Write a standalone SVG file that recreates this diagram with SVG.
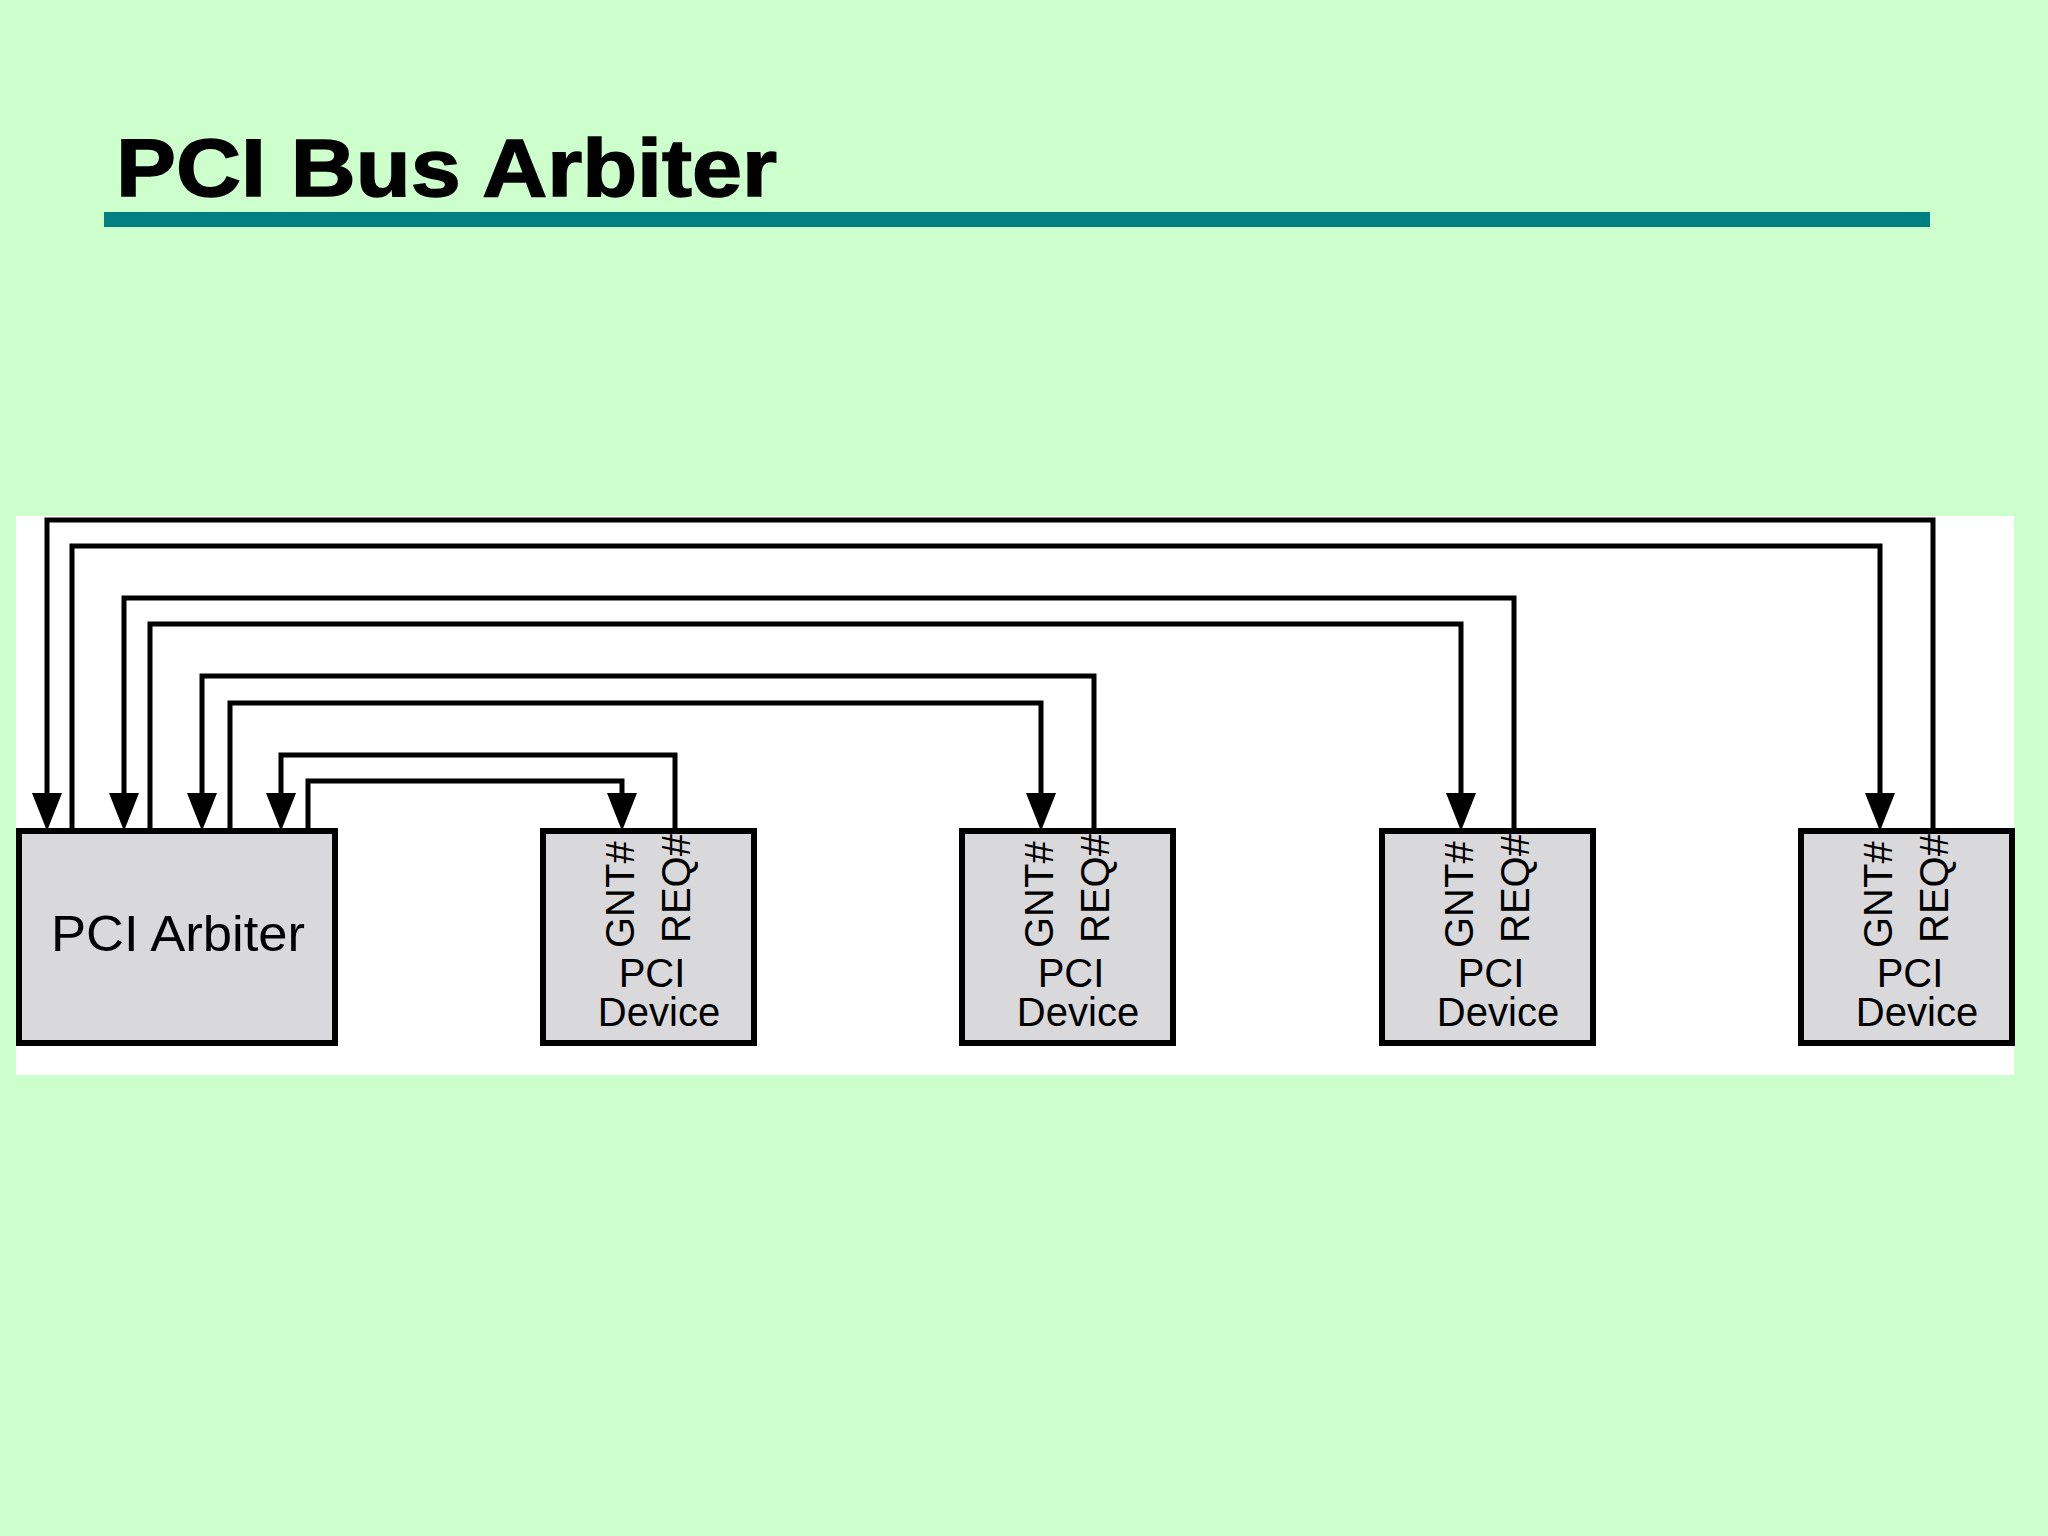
<svg xmlns="http://www.w3.org/2000/svg" width="2048" height="1536" viewBox="0 0 2048 1536">
<style>
.box{fill:#D9D9DB;stroke:#000;stroke-width:6}
.wire{fill:none;stroke:#000;stroke-width:5;stroke-linejoin:miter}
.lbl{font-family:"Liberation Sans",Arial,sans-serif;font-size:40px;fill:#000}
.title{font-family:"Liberation Sans",Arial,sans-serif;font-weight:bold;font-size:82px;fill:#000;stroke:#000;stroke-width:1.5}
</style>
<defs>
<marker id="arr" viewBox="0 0 38 30" markerWidth="38" markerHeight="30" refX="7" refY="15" orient="auto" markerUnits="userSpaceOnUse">
<path d="M0,0 L38,15 L0,30 z" fill="#000"/>
</marker>
</defs>
<rect x="0" y="0" width="2048" height="1536" fill="#CCFFCC"/>
<text class="title" x="116" y="196" textLength="661" lengthAdjust="spacingAndGlyphs">PCI Bus Arbiter</text>
<rect x="104" y="212" width="1826" height="15" fill="#008080"/>
<rect x="16" y="516" width="1998" height="559" fill="#FFFFFF"/>
<g id="connectors">
<path class="wire" d="M1933,831 V520 H47 V800" marker-end="url(#arr)"/>
<path class="wire" d="M72,831 V546 H1880 V800" marker-end="url(#arr)"/>
<path class="wire" d="M1514,831 V598 H124 V800" marker-end="url(#arr)"/>
<path class="wire" d="M150,831 V624 H1461 V800" marker-end="url(#arr)"/>
<path class="wire" d="M1094,831 V676 H202 V800" marker-end="url(#arr)"/>
<path class="wire" d="M230,831 V703 H1041 V800" marker-end="url(#arr)"/>
<path class="wire" d="M675,831 V755 H281 V800" marker-end="url(#arr)"/>
<path class="wire" d="M308,831 V781 H622 V800" marker-end="url(#arr)"/>
</g>
<g id="arbiter">
<rect class="box" x="19" y="831" width="316" height="212"/>
<text class="lbl" x="51" y="951" style="font-size:50px" textLength="254" lengthAdjust="spacingAndGlyphs">PCI Arbiter</text>
</g>
<g id="device1">
<rect class="box" x="543" y="831" width="211" height="212"/>
<text class="lbl" transform="translate(634,948) rotate(-90)">GNT#</text>
<text class="lbl" transform="translate(690,943) rotate(-90)">REQ#</text>
<text class="lbl" x="652" y="987" text-anchor="middle">PCI</text>
<text class="lbl" x="659" y="1026" text-anchor="middle">Device</text>
</g>
<g id="device2">
<rect class="box" x="962" y="831" width="211" height="212"/>
<text class="lbl" transform="translate(1053,948) rotate(-90)">GNT#</text>
<text class="lbl" transform="translate(1109,943) rotate(-90)">REQ#</text>
<text class="lbl" x="1071" y="987" text-anchor="middle">PCI</text>
<text class="lbl" x="1078" y="1026" text-anchor="middle">Device</text>
</g>
<g id="device3">
<rect class="box" x="1382" y="831" width="211" height="212"/>
<text class="lbl" transform="translate(1473,948) rotate(-90)">GNT#</text>
<text class="lbl" transform="translate(1529,943) rotate(-90)">REQ#</text>
<text class="lbl" x="1491" y="987" text-anchor="middle">PCI</text>
<text class="lbl" x="1498" y="1026" text-anchor="middle">Device</text>
</g>
<g id="device4">
<rect class="box" x="1801" y="831" width="211" height="212"/>
<text class="lbl" transform="translate(1892,948) rotate(-90)">GNT#</text>
<text class="lbl" transform="translate(1948,943) rotate(-90)">REQ#</text>
<text class="lbl" x="1910" y="987" text-anchor="middle">PCI</text>
<text class="lbl" x="1917" y="1026" text-anchor="middle">Device</text>
</g>
</svg>
